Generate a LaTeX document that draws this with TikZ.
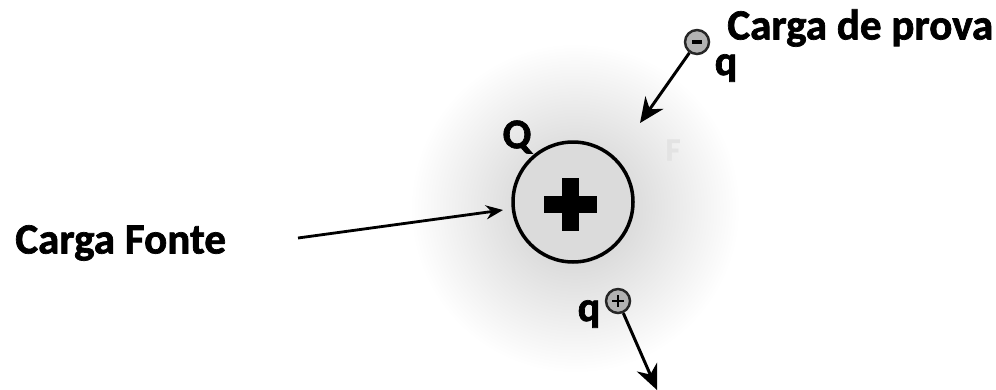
\documentclass[tikz,border=0pt]{standalone}
\usepackage{fontspec}
\setmainfont{Carlito}[BoldFeatures={FakeBold=1.6}]
\usepackage{xcolor}
\usepackage{tikz}
\usetikzlibrary{calc, arrows.meta, positioning}

\begin{document}
\begin{tikzpicture}[x=0.02cm, y=-0.02cm, >={Stealth[length=5mm, width=4.4mm]},
    rotulo/.style={font=\bfseries\fontsize{24.5}{28}\selectfont, inner sep=0pt},
    letra/.style={font=\bfseries\fontsize{24}{28}\selectfont, inner sep=0pt},
    vetor/.style={->, line width=1.7pt},
    cargaprova/.style={circle, draw=black!85, line width=1.4pt, fill=gray!60, minimum size=0.48cm, inner sep=0pt}]
    % Moldura da figura
    \useasboundingbox (0,0) rectangle (996,389);
    \clip (0,0) rectangle (996,389);
    \fill[white] (0,0) rectangle (996,389);

    % Halo cinza em volta da carga fonte
    \shade[inner color=gray!42, outer color=white] (575,208) circle (165);

    % Carga fonte
    \node[circle, draw, line width=2pt, fill=gray!28, minimum size=2.4cm, inner sep=0pt] (fonte) at (573,202) {};
    \draw[line width=0.34cm] (544,204) -- (597,204);
    \draw[line width=0.34cm] (570,178) -- (570,231);
    \node[letra] (Q) at (517,137) {Q};

    \node[rotulo, anchor=west] (txtFonte) at (15,243) {Carga Fonte};
    \coordinate (inicioFonte) at (298,238);
    \coordinate (fimFonte) at (503,210);
    \draw[->, line width=1.6pt, >={Stealth[length=3.4mm, width=2.8mm]}] (inicioFonte) -- (fimFonte);

    % Carga de prova negativa
    \node[cargaprova] (qneg) at (697,42) {};
    \draw[line width=1.8pt] (692,42) -- (702,42);
    \node[letra] (q1) at (726,68) {q};
    \node[rotulo, anchor=west] (txtProva) at (727,28) {Carga de prova};
    \coordinate (fimNeg) at (640,123);
    \draw[vetor] (qneg) -- (fimNeg);
    \node[font=\bfseries\fontsize{18}{20}\selectfont, text=gray!22] (F) at (673,150) {F};

    % Carga de prova positiva
    \node[cargaprova] (qpos) at (618,301) {};
    \draw[line width=1.6pt] (612,301) -- (624,301) (618,295) -- (618,307);
    \node[letra] (q2) at (589,314) {q};
    \coordinate (fimPos) at (657,390);
    \draw[vetor] (qpos) -- (fimPos);
\end{tikzpicture}
\end{document}
